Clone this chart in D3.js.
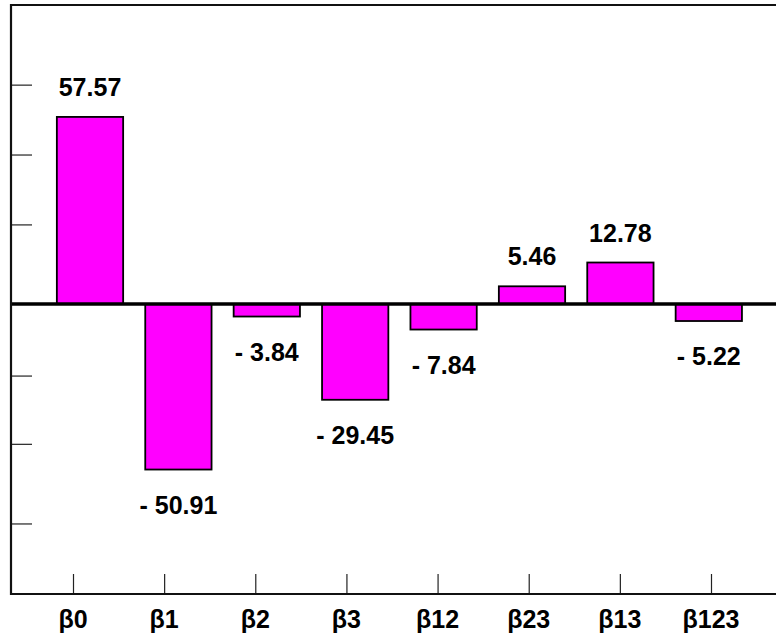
<!DOCTYPE html>
<html>
<head>
<meta charset="utf-8">
<script src="https://cdn.jsdelivr.net/npm/d3@7"></script>
<style>
  html, body { margin: 0; padding: 0; background: #fff; }
  svg { display: block; }
  text { font-family: "Liberation Sans", Arial, sans-serif; font-weight: bold; }
</style>
</head>
<body>
<svg id="chart" width="776" height="638"></svg>
<script>
// Effect coefficients
const categories = ["β0", "β1", "β2", "β3", "β12", "β23", "β13", "β123"];
const values = [57.57, -50.91, -3.84, -29.45, -7.84, 5.46, 12.78, -5.22];
const valueLabels = ["57.57", "- 50.91", "- 3.84", "- 29.45", "- 7.84", "5.46", "12.78", "- 5.22"];
// Unlabelled reference ticks on the value axis
const yTicks = [67.5, 46, 24.5, -22, -43, -67.5];

const frame = { left: 11, top: 5, right: 776, bottom: 594 };

const svg = d3.select("#chart");

const y = d3.scaleLinear()
  .domain([-89.2, 92])
  .range([frame.bottom, frame.top]);

const x = d3.scaleBand()
  .domain(categories)
  .range([45.8, 753])
  .paddingInner(0.25)
  .paddingOuter(0.125);

// Category axis along the bottom
const xAxisScale = d3.scalePoint()
  .domain(categories)
  .range([73, 711]);

// Bars
svg.append("g")
  .selectAll("rect")
  .data(values)
  .join("rect")
  .attr("x", (d, i) => x(categories[i]))
  .attr("width", x.bandwidth())
  .attr("y", d => y(Math.max(0, d)))
  .attr("height", d => Math.abs(y(d) - y(0)))
  .attr("fill", "#ff00ff")
  .attr("stroke", "#000")
  .attr("stroke-width", 1.8);

// Value labels
svg.append("g")
  .selectAll("text")
  .data(values)
  .join("text")
  .attr("x", (d, i) => x(categories[i]) + x.bandwidth() / 2)
  .attr("y", d => d >= 0 ? y(d) - 21 : y(d) + 44)
  .attr("text-anchor", "middle")
  .attr("font-size", 25)
  .attr("fill", "#000")
  .text((d, i) => valueLabels[i]);

// Zero line
svg.append("line")
  .attr("x1", frame.left).attr("x2", frame.right)
  .attr("y1", y(0)).attr("y2", y(0))
  .attr("stroke", "#000").attr("stroke-width", 3.5);

// Left axis with unlabelled ticks
const yAxis = d3.axisRight(y).tickValues(yTicks).tickSize(21).tickFormat("");
const gy = svg.append("g").attr("transform", `translate(${frame.left},0)`).call(yAxis);
gy.select(".domain").remove();
gy.selectAll(".tick line").attr("stroke", "#222").attr("stroke-width", 1.2);

// Bottom axis ticks pointing up, labels below
const xAxis = d3.axisTop(xAxisScale).tickSize(20).tickFormat("");
const gx = svg.append("g").attr("transform", `translate(0,${frame.bottom})`).call(xAxis);
gx.select(".domain").remove();
gx.selectAll(".tick line").attr("stroke", "#222").attr("stroke-width", 1.2);

svg.append("g")
  .selectAll("text")
  .data(categories)
  .join("text")
  .attr("x", d => xAxisScale(d))
  .attr("y", 628)
  .attr("text-anchor", "middle")
  .attr("font-size", 25)
  .attr("fill", "#000")
  .text(d => d);

// Frame: top, left and bottom edges
const framePath = d3.path();
framePath.moveTo(frame.right, frame.top);
framePath.lineTo(frame.left, frame.top);
framePath.lineTo(frame.left, frame.bottom);
framePath.lineTo(frame.right, frame.bottom);
svg.append("path")
  .attr("d", framePath.toString())
  .attr("fill", "none")
  .attr("stroke", "#111")
  .attr("stroke-width", 2.2);
</script>
</body>
</html>
